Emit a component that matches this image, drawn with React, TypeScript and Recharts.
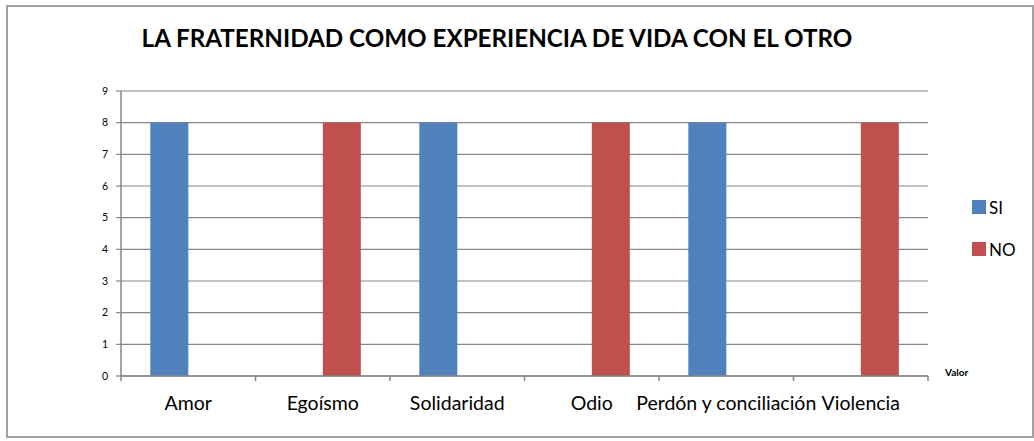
import { Bar, BarChart, CartesianGrid, XAxis, YAxis } from "recharts";

const categories = ["Amor", "Egoísmo", "Solidaridad", "Odio", "Perdón y conciliación", "Violencia"];
const siValues = [8, 0, 8, 0, 8, 0];
const noValues = [0, 8, 0, 8, 0, 8];
const yTicks = [0, 1, 2, 3, 4, 5, 6, 7, 8, 9];
const series = [
  { key: "SI", color: "#4f81bd" },
  { key: "NO", color: "#c0504d" },
];

const data = categories.map((name, i) => ({ name, SI: siValues[i], NO: noValues[i] }));

const FONT = "Lato, 'Noto Sans', sans-serif";
const GRID = "#868686";

function CategoryTick(props: any) {
  const { x, y, payload, index } = props;
  const half = payload?.offset ?? 0;
  return (
    <g>
      <line x1={x - half} y1={y} x2={x - half} y2={y + 5} stroke={GRID} strokeWidth={1.5} />
      {index === categories.length - 1 && (
        <line x1={x + half} y1={y} x2={x + half} y2={y + 5} stroke={GRID} strokeWidth={1.5} />
      )}
      <text x={x} y={y + 34} textAnchor="middle" fontSize={19.5} fontFamily={FONT} fill="#000">
        {payload.value}
      </text>
    </g>
  );
}

export default function App() {
  return (
    <div style={{ position: "absolute", left: 0, top: 0, width: 1034, height: 441, background: "#fff" }}>
      <div
        style={{
          position: "absolute",
          left: 6,
          top: 5,
          width: 1024,
          height: 429,
          border: "2px solid #a0a0a0",
        }}
      />
      <div
        style={{
          position: "absolute",
          left: 0,
          top: 23,
          width: 994,
          textAlign: "center",
          fontFamily: FONT,
          fontWeight: 700,
          fontSize: 24.2,
          color: "#000",
        }}
      >
        LA FRATERNIDAD COMO EXPERIENCIA DE VIDA CON EL OTRO
      </div>
      <div
        style={{
          position: "absolute",
          left: 945,
          top: 366,
          fontFamily: FONT,
          fontWeight: 700,
          fontSize: 10,
          color: "#000",
        }}
      >
        Valor
      </div>
      <div style={{ position: "absolute", left: 972, top: 186, fontFamily: FONT }}>
        {series.map((s) => (
          <div key={s.key} style={{ display: "flex", alignItems: "center", height: 42 }}>
            <span style={{ width: 14, height: 14, background: s.color, display: "inline-block", marginRight: 3 }} />
            <span style={{ fontSize: 17, color: "#000" }}>{s.key}</span>
          </div>
        ))}
      </div>
      <BarChart
        width={1034}
        height={441}
        data={data}
        margin={{ top: 91, right: 106, bottom: 35, left: 0 }}
        barCategoryGap="21.8%"
        barGap={0}
        style={{ position: "absolute", left: 0, top: 0 }}
      >
        <CartesianGrid horizontal vertical={false} stroke={GRID} strokeWidth={1.2} />
        <XAxis
          dataKey="name"
          height={30}
          interval={0}
          axisLine={{ stroke: GRID, strokeWidth: 1.5 }}
          tickLine={false}
          tickSize={0}
          tickMargin={0}
          tick={<CategoryTick />}
        />
        <YAxis
          width={121}
          domain={[0, 9]}
          ticks={yTicks}
          interval={0}
          axisLine={{ stroke: GRID, strokeWidth: 1.5 }}
          tickLine={{ stroke: GRID, strokeWidth: 1.2 }}
          tickSize={5}
          tickMargin={8}
          tick={{ fontSize: 10.5, fontFamily: FONT, fill: "#000" }}
        />
        {series.map((s) => (
          <Bar key={s.key} dataKey={s.key} fill={s.color} isAnimationActive={false} />
        ))}
      </BarChart>
    </div>
  );
}
